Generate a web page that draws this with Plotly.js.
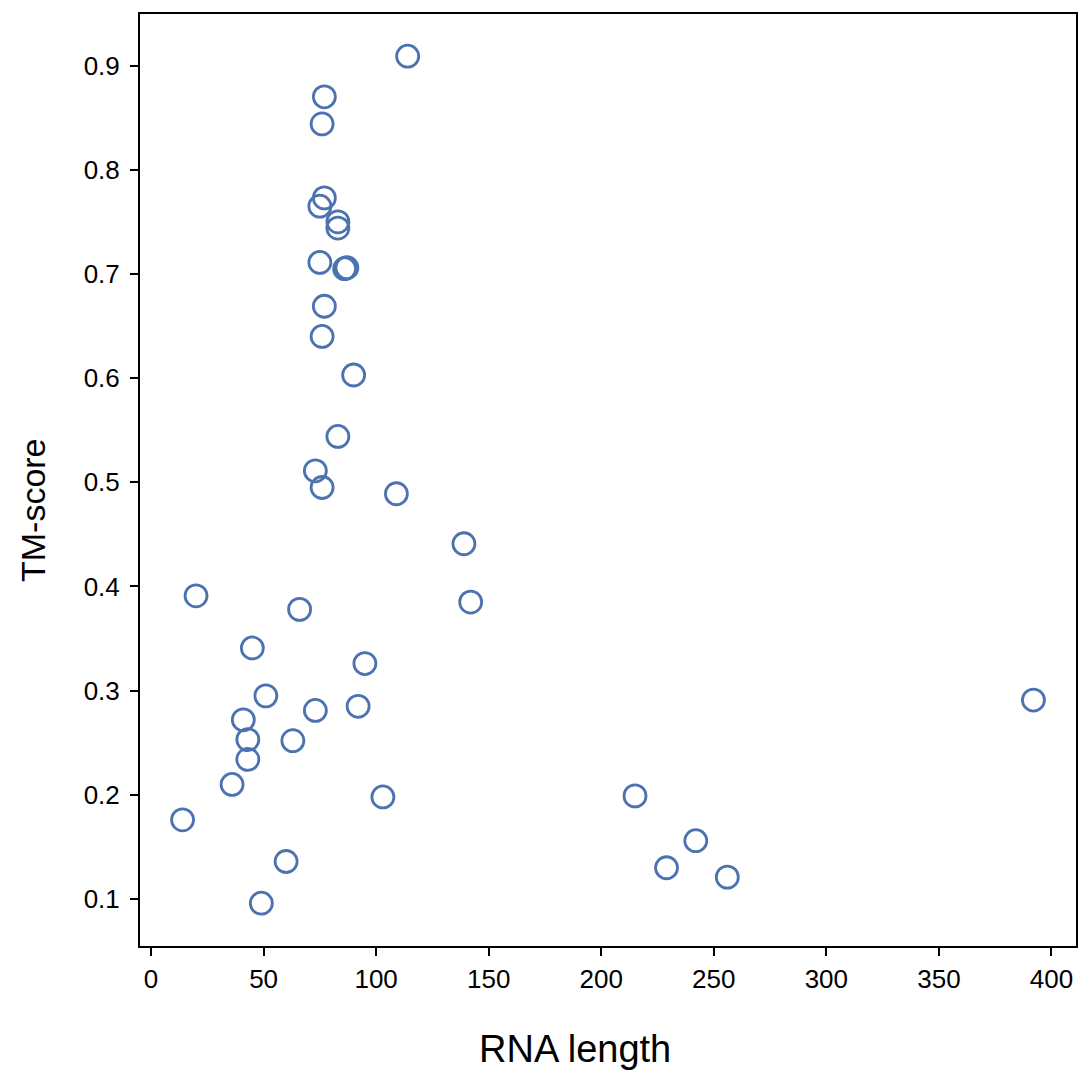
<!DOCTYPE html>
<html>
<head>
<meta charset="utf-8">
<script src="https://cdn.plot.ly/plotly-3.0.1.min.js"></script>
<style>html,body{margin:0;padding:0;background:#fff;}#chart{width:1081px;height:1072px;}</style>
</head>
<body>
<div id="chart"></div>
<script>
const rnaLength = [114, 77, 76, 77, 75, 83, 83, 86, 87, 75, 77, 76, 90, 83, 73, 76, 109, 139, 142, 20,
                   66, 45, 95, 51, 73, 92, 41, 43, 63, 43, 36, 103, 14, 60, 49, 215, 229, 242, 256, 392];
const tmScore = [0.909, 0.870, 0.844, 0.773, 0.765, 0.750, 0.744, 0.705, 0.706, 0.711, 0.669, 0.640, 0.603, 0.544, 0.511, 0.495, 0.489, 0.441, 0.385, 0.391,
                 0.378, 0.341, 0.326, 0.295, 0.281, 0.285, 0.272, 0.253, 0.252, 0.234, 0.210, 0.198, 0.176, 0.136, 0.096, 0.199, 0.130, 0.156, 0.121, 0.291];
const xTicks = [0, 50, 100, 150, 200, 250, 300, 350, 400];
const yTicks = [0.1, 0.2, 0.3, 0.4, 0.5, 0.6, 0.7, 0.8, 0.9];
const xTitle = 'RNA length';
const yTitle = 'TM-score';

const font = "Liberation Sans, Arial, Helvetica, sans-serif";
const trace = {
  x: rnaLength, y: tmScore, type: 'scatter', mode: 'markers',
  marker: {symbol: 'circle-open', size: 22, color: '#4C72B0', line: {width: 2.8, color: '#4C72B0'}},
  hoverinfo: 'x+y'
};
const axisCommon = {
  showgrid: false, zeroline: false, showline: true, mirror: true,
  linecolor: '#000', linewidth: 2, ticks: 'outside', ticklen: 8, tickwidth: 1.8, tickcolor: '#000',
  tickfont: {family: font, size: 26, color: '#000'}
};
const layout = {
  width: 1081, height: 1072,
  margin: {l: 140, r: 5, t: 14, b: 126},
  paper_bgcolor: '#fff', plot_bgcolor: '#fff',
  showlegend: false,
  font: {family: font, color: '#000'},
  xaxis: Object.assign({}, axisCommon, {
    range: [-4.9, 410.9], tickvals: xTicks, ticktext: xTicks.map(String),
    ticklabelstandoff: 1
  }),
  yaxis: Object.assign({}, axisCommon, {
    range: [0.0549, 0.9495], tickvals: yTicks, ticktext: yTicks.map(v => v.toFixed(1)),
    ticklabelstandoff: 5
  }),
  annotations: [
    {text: xTitle, xref: 'paper', yref: 'paper', x: 0.4647, y: -0.110, xanchor: 'center', yanchor: 'middle',
     showarrow: false, font: {family: font, size: 38, color: '#000'}},
    {text: yTitle, xref: 'paper', yref: 'paper', x: -0.1143, y: 0.4678, xanchor: 'center', yanchor: 'middle',
     textangle: -90, showarrow: false, font: {family: font, size: 34, color: '#000'}}
  ]
};
Plotly.newPlot('chart', [trace], layout, {displayModeBar: false});
</script>
</body>
</html>
